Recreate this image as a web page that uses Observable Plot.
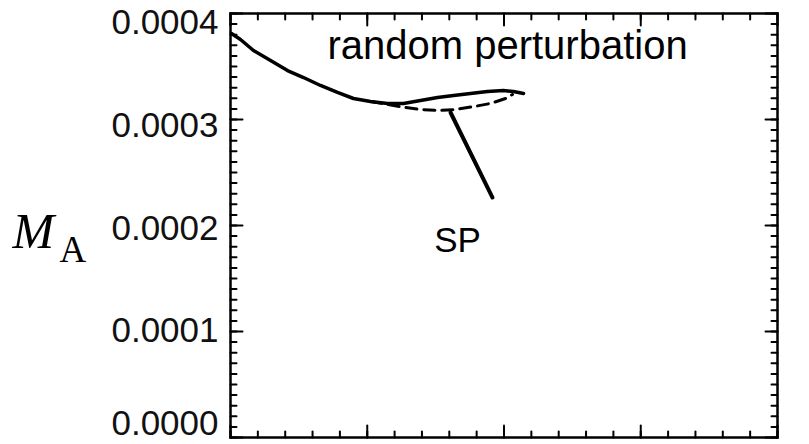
<!DOCTYPE html>
<html>
<head>
<meta charset="utf-8">
<script src="https://cdn.jsdelivr.net/npm/d3@7"></script>
<script src="https://cdn.jsdelivr.net/npm/@observablehq/plot@0.6"></script>
<style>
  html, body { margin: 0; padding: 0; background: #fff; }
  #chart svg { display: block; }
</style>
</head>
<body>
<div id="chart"></div>
<script>
// Solid curve ("random perturbation")
const solidX = [0.007, 0.073, 0.168, 0.293, 0.417, 0.534, 0.658, 0.782, 0.899, 1.024, 1.148, 1.265, 1.389, 1.514, 1.631, 1.755, 1.879, 1.996, 2.069, 2.143];
const solidY = [3.811e-4, 3.755e-4, 3.651e-4, 3.557e-4, 3.462e-4, 3.396e-4, 3.321e-4, 3.255e-4, 3.198e-4, 3.170e-4, 3.151e-4, 3.151e-4, 3.179e-4, 3.208e-4, 3.226e-4, 3.245e-4, 3.264e-4, 3.274e-4, 3.264e-4, 3.245e-4];
// Dashed curve (SP)
const dashX = [1.024, 1.148, 1.280, 1.389, 1.521, 1.645, 1.784, 1.901, 2.011, 2.062];
const dashY = [3.170e-4, 3.142e-4, 3.113e-4, 3.094e-4, 3.085e-4, 3.094e-4, 3.123e-4, 3.151e-4, 3.198e-4, 3.236e-4];
// Pointer line from SP label to dashed curve
const pointerX = [1.609, 1.916];
const pointerY = [3.066e-4, 2.264e-4];
// Tick values
const yMajor = [0, 1e-4, 2e-4, 3e-4, 4e-4];
const yLabels = ["0.0000", "0.0001", "0.0002", "0.0003", "0.0004"];
const yMinor = d3.range(0, 41).map(i => i * 1e-5);
const xMajor = [0, 1, 2, 3, 4];
const xMinor = d3.range(0, 21).map(i => i * 0.2);
// Annotations
const titleText = "random perturbation";
const titlePos = {x: 2.026, y: 3.693e-4};
const spText = "SP";
const spPos = {x: 1.660, y: 1.858e-4};

const solid = solidX.map((x, i) => ({x, y: solidY[i]}));
const dashed = dashX.map((x, i) => ({x, y: dashY[i]}));
const pointer = pointerX.map((x, i) => ({x, y: pointerY[i]}));

// straight tick shape for vector marks
const tickShape = {draw(context, l) { context.moveTo(0, 0); context.lineTo(0, -l); }};
const tk = {shape: tickShape, anchor: "start", stroke: "black", strokeWidth: 2};

const sansFont = "'Liberation Sans', Arial, sans-serif";
const serifFont = "'Liberation Serif', 'Times New Roman', serif";
const labelFmt = d => yLabels[yMajor.indexOf(d)];
const labelStyle = {anchor: "left", tickSize: 0, tickPadding: 12, fontSize: 35, label: null, tickFormat: labelFmt, fill: "#111"};

const chart = Plot.plot({
  width: 809,
  height: 444,
  marginLeft: 230,
  marginRight: 32,
  marginTop: 13,
  marginBottom: 7,
  style: {fontFamily: sansFont, background: "white", color: "black"},
  x: {domain: [0, 4], axis: null},
  y: {domain: [0, 4e-4], axis: null},
  marks: [
    // inward ticks on all four sides
    Plot.vector(yMinor, {x: 0, y: d => d, rotate: 90, length: 6, ...tk}),
    Plot.vector(yMinor, {x: 4, y: d => d, rotate: 270, length: 6, ...tk}),
    Plot.vector(yMajor, {x: 0, y: d => d, rotate: 90, length: 12, ...tk}),
    Plot.vector(yMajor, {x: 4, y: d => d, rotate: 270, length: 12, ...tk}),
    Plot.vector(xMinor, {x: d => d, y: 0, rotate: 0, length: 6, ...tk}),
    Plot.vector(xMinor, {x: d => d, y: 4e-4, rotate: 180, length: 6, ...tk}),
    Plot.vector(xMajor, {x: d => d, y: 0, rotate: 0, length: 12, ...tk}),
    Plot.vector(xMajor, {x: d => d, y: 4e-4, rotate: 180, length: 12, ...tk}),
    // y tick labels (end labels nudged inside like the reference)
    Plot.axisY([4e-4], {...labelStyle, dy: 9}),
    Plot.axisY([3e-4], {...labelStyle, dy: 6}),
    Plot.axisY([2e-4], {...labelStyle, dy: 3}),
    Plot.axisY([1e-4], {...labelStyle, dy: -1}),
    Plot.axisY([0], {...labelStyle, dy: -14}),
    Plot.frame({stroke: "black", strokeWidth: 2.5}),
    // curves
    Plot.line(solid, {x: "x", y: "y", stroke: "black", strokeWidth: 3.5}),
    Plot.line(dashed, {x: "x", y: "y", stroke: "black", strokeWidth: 3, strokeDasharray: "11,7"}),
    Plot.line(pointer, {x: "x", y: "y", stroke: "black", strokeWidth: 4}),
    // annotations
    Plot.text([titlePos], {x: "x", y: "y", text: () => titleText, fontSize: 40, fill: "black", textAnchor: "middle"}),
    Plot.text([spPos], {x: "x", y: "y", text: () => spText, fontSize: 35, fill: "black", textAnchor: "middle"}),
    // y-axis title M_A
    Plot.text([2e-4], {y: d => d, frameAnchor: "left", dx: -218, dy: 6, text: () => "M",
      fontSize: 50, fontStyle: "italic", fontFamily: serifFont, textAnchor: "start", fill: "black"}),
    Plot.text([2e-4], {y: d => d, frameAnchor: "left", dx: -171, dy: 25, text: () => "A",
      fontSize: 37, fontFamily: serifFont, textAnchor: "start", fill: "black"})
  ]
});
document.getElementById("chart").appendChild(chart);
</script>
</body>
</html>
